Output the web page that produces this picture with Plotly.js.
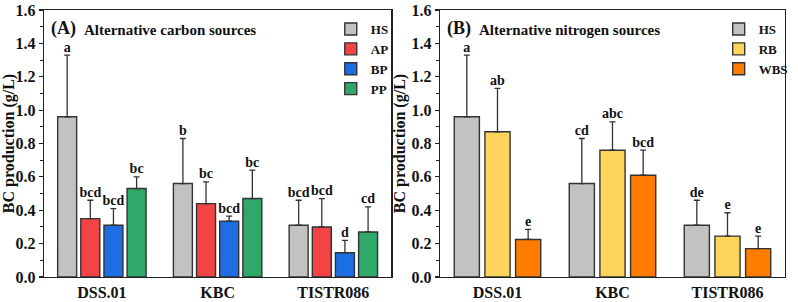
<!DOCTYPE html>
<html>
<head>
<meta charset="utf-8">
<script src="https://cdn.plot.ly/plotly-3.0.1.min.js"></script>
<style>
  html, body { margin: 0; padding: 0; background: #fff; }
  #chart { width: 798px; height: 302px; }
</style>
</head>
<body>
<div id="chart"></div>
<script>
// Strains on the x axis
const categories = ['DSS.01', 'KBC', 'TISTR086'];

// (A) carbon sources: mean BC production (g/L), SD and significance letters
const carbonNames = ['HS', 'AP', 'BP', 'PP'];
const carbonHS = [0.96, 0.56, 0.31];
const carbonAP = [0.35, 0.44, 0.30];
const carbonBP = [0.31, 0.335, 0.145];
const carbonPP = [0.53, 0.47, 0.27];
const carbonHSerr = [0.37, 0.27, 0.15];
const carbonAPerr = [0.11, 0.13, 0.17];
const carbonBPerr = [0.10, 0.03, 0.075];
const carbonPPerr = [0.07, 0.17, 0.15];
const carbonHSlet = ['a', 'b', 'bcd'];
const carbonAPlet = ['bcd', 'bc', 'bcd'];
const carbonBPlet = ['bcd', 'bcd', 'd'];
const carbonPPlet = ['bc', 'bc', 'cd'];

// (B) nitrogen sources
const nitroNames = ['HS', 'RB', 'WBS'];
const nitroHS = [0.96, 0.56, 0.31];
const nitroRB = [0.87, 0.76, 0.245];
const nitroWBS = [0.225, 0.61, 0.17];
const nitroHSerr = [0.37, 0.27, 0.15];
const nitroRBerr = [0.26, 0.17, 0.14];
const nitroWBSerr = [0.06, 0.15, 0.075];
const nitroHSlet = ['a', 'cd', 'de'];
const nitroRBlet = ['ab', 'abc', 'e'];
const nitroWBSlet = ['e', 'bcd', 'e'];

const yTicks = [0.0, 0.2, 0.4, 0.6, 0.8, 1.0, 1.2, 1.4, 1.6];

const SERIF = 'Liberation Serif, Times New Roman, serif';
const INK = '#222';
const colors = {
  HS: '#c2c2c2', AP: '#f24444', BP: '#1d6ee3', PP: '#2fa86a',
  RB: '#fed55c', WBS: '#ff7c00'
};

function barTrace(name, vals, errs, xa, ya, legend) {
  return {
    type: 'bar', name: name, x: categories, y: vals,
    xaxis: xa, yaxis: ya, legend: legend,
    marker: { color: colors[name], line: { color: '#333', width: 1.4 } },
    error_y: {
      type: 'data', symmetric: false, array: errs,
      arrayminus: errs.map(() => 0),
      color: '#333', thickness: 1.3, width: 3
    },
    hoverinfo: 'skip'
  };
}

// letters sit just above the top of each error bar
function letterTrace(vals, errs, letters, xa, ya) {
  return {
    type: 'scatter', mode: 'text', x: categories,
    y: vals.map((v, i) => v + errs[i]),
    text: letters, textposition: 'top center',
    textfont: { family: SERIF, size: 14, color: '#111', weight: 'bold' },
    xaxis: xa, yaxis: ya, showlegend: false, hoverinfo: 'skip', cliponaxis: false
  };
}

const carbonVals = [carbonHS, carbonAP, carbonBP, carbonPP];
const carbonErrs = [carbonHSerr, carbonAPerr, carbonBPerr, carbonPPerr];
const carbonLets = [carbonHSlet, carbonAPlet, carbonBPlet, carbonPPlet];
const nitroVals = [nitroHS, nitroRB, nitroWBS];
const nitroErrs = [nitroHSerr, nitroRBerr, nitroWBSerr];
const nitroLets = [nitroHSlet, nitroRBlet, nitroWBSlet];

const data = [];
carbonNames.forEach((n, k) => data.push(barTrace(n, carbonVals[k], carbonErrs[k], 'x', 'y', 'legend')));
nitroNames.forEach((n, k) => data.push(barTrace(n, nitroVals[k], nitroErrs[k], 'x2', 'y2', 'legend2')));
carbonNames.forEach((n, k) => data.push(letterTrace(carbonVals[k], carbonErrs[k], carbonLets[k], 'x', 'y')));
nitroNames.forEach((n, k) => data.push(letterTrace(nitroVals[k], nitroErrs[k], nitroLets[k], 'x2', 'y2')));

function xAxis(domain, anchor) {
  return {
    domain: domain, anchor: anchor, type: 'category',
    range: [-0.5, 2.5], showline: true, mirror: true,
    linecolor: INK, linewidth: 1.3, ticks: '', showgrid: false,
    tickfont: { family: SERIF, size: 16, color: '#111', weight: 'bold' }
  };
}
function yAxis(anchor) {
  return {
    anchor: anchor, range: [0, 1.6], tickvals: yTicks,
    ticktext: yTicks.map(v => v.toFixed(1)),
    showline: true, mirror: true, linecolor: INK, linewidth: 1.3,
    ticks: 'outside', ticklen: 4, tickwidth: 1.2, tickcolor: INK,
    minor: { dtick: 0.1, ticks: 'outside', ticklen: 2.5, tickwidth: 1, tickcolor: INK },
    showgrid: false, zeroline: false,
    tickfont: { family: SERIF, size: 16, color: '#111', weight: 'bold' },
    title: { text: 'BC production (g/L)', standoff: 2,
             font: { family: SERIF, size: 16, color: '#111', weight: 'bold' } }
  };
}

const legendStyle = (x) => ({
  x: x, y: 0.985, xanchor: 'left', yanchor: 'top',
  bgcolor: 'rgba(0,0,0,0)', borderwidth: 0,
  font: { family: SERIF, size: 13, color: '#111', weight: 'bold' },
  itemclick: false, tracegroupgap: 0
});

function panelTitle(xref, yref, tag, text, textX) {
  return [
    { xref: xref, yref: yref, x: 0.015, y: 0.93, xanchor: 'left', yanchor: 'middle',
      text: tag, showarrow: false,
      font: { family: SERIF, size: 18, color: '#111', weight: 'bold' } },
    { xref: xref, yref: yref, x: textX, y: 0.925, xanchor: 'left', yanchor: 'middle',
      text: text, showarrow: false,
      font: { family: SERIF, size: 15, color: '#111', weight: 'bold' } }
  ];
}

const layout = {
  width: 798, height: 302,
  margin: { l: 44, r: 5, t: 10, b: 25 },
  paper_bgcolor: '#fff', plot_bgcolor: '#fff',
  barmode: 'group', bargap: 0.2, bargroupgap: 0.18,
  scattermode: 'group', scattergap: 0.2,
  xaxis: xAxis([0, 0.4686], 'y'),
  yaxis: yAxis('x'),
  xaxis2: xAxis([0.5344, 1], 'y2'),
  yaxis2: yAxis('x2'),
  legend: legendStyle(0.387),
  legend2: legendStyle(0.9105),
  annotations: [].concat(
    panelTitle('x domain', 'y domain', '(A)', 'Alternative carbon sources', 0.11),
    panelTitle('x2 domain', 'y2 domain', '(B)', 'Alternative nitrogen sources', 0.107)
  ),
  showlegend: true
};

Plotly.newPlot('chart', data, layout, { staticPlot: true, displayModeBar: false });
</script>
</body>
</html>
